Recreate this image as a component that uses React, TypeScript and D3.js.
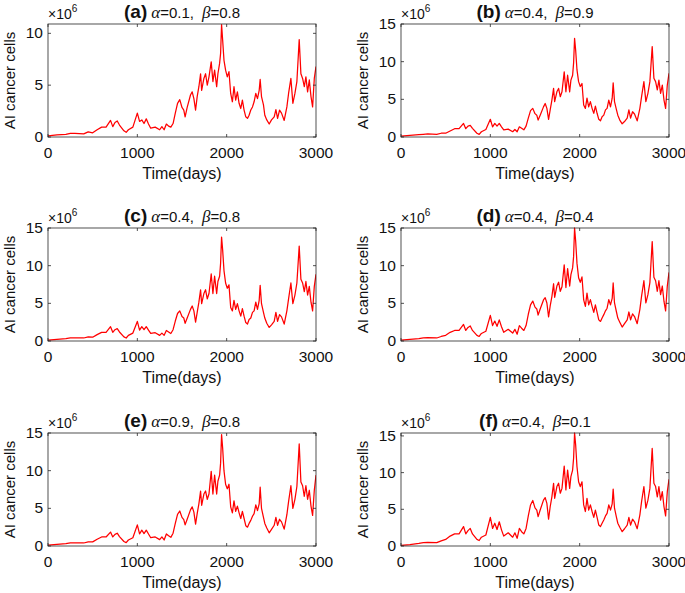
import React from "react";
import * as d3 from "d3";

// ---- data ----
const days = [
  0, 100, 200, 250, 300, 400, 450, 500, 550, 600,
  650, 700, 725, 750, 775, 800, 850, 875, 900, 950,
  1000, 1025, 1050, 1075, 1100, 1125, 1150, 1200, 1250, 1275,
  1300, 1325, 1350, 1375, 1400, 1425, 1450, 1475, 1500, 1520,
  1535, 1558, 1595, 1614, 1633, 1652, 1670, 1689, 1708, 1720,
  1745, 1764, 1783, 1802, 1827, 1846, 1865, 1888, 1902, 1921,
  1932, 1943, 1955, 1970, 1988, 2007, 2026, 2045, 2064, 2082,
  2101, 2120, 2139, 2158, 2176, 2195, 2214, 2233, 2251, 2270,
  2289, 2307, 2326, 2345, 2364, 2375, 2390, 2412, 2427, 2449,
  2476, 2502, 2532, 2551, 2570, 2592, 2614, 2644, 2674, 2693,
  2719, 2741, 2764, 2786, 2812, 2831, 2850, 2869, 2887, 2906,
  2925, 2944, 2962, 2981, 3000,
];

const seriesA = [
  0.1, 0.2, 0.25, 0.35, 0.35, 0.3, 0.5, 0.4, 0.7, 0.95,
  0.95, 1.6, 1.0, 1.4, 1.55, 1.15, 0.6, 0.45, 0.7, 0.95,
  2.3, 1.5, 1.65, 1.3, 1.75, 1.25, 0.85, 0.95, 0.7, 1.0,
  0.7, 1.25, 1.05, 0.95, 1.3, 2.3, 3.25, 3.6, 2.85, 2.6,
  1.95, 2.85, 4.05, 4.35, 3.7, 2.6, 3.9, 4.85, 6.1, 4.5,
  5.65, 6.1, 5.0, 5.8, 7.25, 5.35, 6.45, 4.85, 6.1, 7.1,
  8.05, 10.85, 9.35, 7.4, 6.45, 5.8, 6.3, 4.2, 3.4, 4.85,
  3.55, 4.35, 3.25, 2.75, 3.55, 2.6, 1.95, 1.8, 2.1, 2.6,
  2.9, 3.4, 4.2, 3.7, 4.5, 5.55, 3.9, 3.1, 2.1, 1.65,
  1.25, 1.65, 1.95, 2.65, 1.8, 2.6, 2.3, 1.6, 2.9, 4.2,
  5.65, 3.25, 4.2, 5.35, 9.4, 6.1, 5.65, 4.85, 5.8, 4.35,
  5.5, 3.9, 2.9, 5.65, 6.8,
];

const seriesB = [
  0.1, 0.2, 0.3, 0.35, 0.4, 0.35, 0.5, 0.5, 0.8, 1.1,
  1.1, 1.8, 1.1, 1.45, 1.55, 1.15, 0.5, 0.35, 0.7, 1.0,
  2.35, 1.35, 1.8, 1.45, 1.8, 1.35, 0.95, 1.05, 0.7, 1.0,
  0.7, 1.35, 1.15, 0.95, 1.45, 2.5, 3.5, 3.8, 3.1, 2.9,
  2.25, 2.9, 4.0, 4.45, 3.8, 2.35, 3.6, 4.9, 6.45, 4.7,
  6.0, 6.45, 5.35, 6.0, 8.65, 6.0, 8.2, 6.0, 7.55, 8.2,
  9.8, 13.1, 11.55, 8.9, 7.35, 6.7, 7.1, 4.25, 3.8, 5.15,
  4.0, 4.7, 3.8, 3.15, 4.1, 3.15, 2.35, 2.15, 2.7, 2.9,
  3.6, 3.8, 4.9, 4.0, 5.15, 7.2, 4.7, 3.6, 2.9, 2.25,
  1.75, 2.05, 2.5, 3.6, 2.5, 3.35, 3.05, 2.15, 3.8, 5.35,
  7.35, 4.7, 5.8, 7.35, 12.0, 7.8, 7.35, 6.25, 7.55, 5.8,
  6.9, 4.9, 3.8, 6.9, 8.45,
];

const seriesC = [
  0.1, 0.2, 0.3, 0.4, 0.4, 0.4, 0.55, 0.5, 0.85, 1.15,
  1.15, 1.9, 1.15, 1.5, 1.65, 1.2, 0.55, 0.4, 0.75, 1.05,
  2.6, 1.45, 1.9, 1.5, 1.9, 1.45, 1.0, 1.1, 0.75, 1.05,
  0.75, 1.4, 1.2, 1.0, 1.5, 2.65, 3.65, 4.0, 3.25, 3.05,
  2.35, 3.05, 4.2, 4.65, 4.0, 2.5, 3.8, 5.15, 6.8, 4.95,
  6.3, 6.8, 5.6, 6.3, 8.9, 6.3, 8.6, 6.3, 7.9, 8.6,
  10.3, 13.8, 12.1, 9.35, 7.7, 7.0, 7.45, 4.45, 4.0, 5.4,
  4.2, 4.95, 4.0, 3.3, 4.3, 3.3, 2.45, 2.25, 2.85, 3.05,
  3.8, 4.0, 5.15, 4.2, 5.4, 7.4, 4.95, 3.8, 3.05, 2.35,
  1.8, 2.15, 2.6, 3.8, 2.6, 3.5, 3.2, 2.25, 4.0, 5.6,
  7.7, 4.95, 6.1, 7.7, 12.6, 8.2, 7.7, 6.55, 7.9, 6.1,
  7.25, 5.15, 4.0, 7.25, 8.85,
];

const seriesD = [
  0.1, 0.2, 0.3, 0.4, 0.45, 0.4, 0.6, 0.75, 1.15, 1.4,
  1.4, 2.2, 1.4, 1.8, 2.0, 1.4, 0.75, 0.6, 1.0, 1.3,
  3.4, 2.05, 2.65, 1.95, 2.8, 1.9, 1.15, 1.55, 1.05, 1.55,
  0.9, 2.05, 1.7, 1.4, 2.05, 3.55, 4.8, 5.3, 4.5, 4.25,
  3.45, 4.25, 5.45, 5.75, 5.05, 3.2, 4.65, 5.9, 7.6, 5.8,
  7.3, 7.8, 6.6, 7.2, 10.1, 7.1, 9.6, 7.3, 8.8, 9.7,
  11.2, 15.0, 13.3, 10.3, 8.4, 7.8, 8.5, 5.45, 4.6, 6.35,
  4.8, 5.5, 4.6, 3.8, 4.8, 3.8, 2.8, 2.6, 3.05, 3.5,
  4.0, 4.35, 5.5, 4.8, 5.65, 7.7, 5.05, 3.85, 3.05, 2.5,
  1.85, 2.3, 2.8, 3.85, 2.8, 3.6, 3.25, 2.3, 4.2, 5.95,
  8.0, 5.05, 6.15, 7.75, 13.2, 8.45, 8.0, 6.6, 8.0, 6.15,
  7.3, 5.25, 4.0, 7.3, 9.1,
];

const seriesE = [
  0.1, 0.2, 0.3, 0.4, 0.4, 0.4, 0.55, 0.55, 0.9, 1.2,
  1.2, 1.85, 1.2, 1.55, 1.7, 1.25, 0.6, 0.45, 0.8, 1.1,
  2.8, 1.6, 2.1, 1.65, 2.1, 1.6, 1.1, 1.2, 0.85, 1.2,
  0.8, 1.6, 1.35, 1.15, 1.7, 3.0, 4.2, 4.65, 3.8, 3.5,
  2.8, 3.55, 4.8, 5.2, 4.5, 2.9, 4.3, 5.6, 7.3, 5.4,
  6.9, 7.3, 6.2, 6.9, 9.9, 6.9, 9.4, 6.9, 8.6, 9.4,
  11.0, 14.8, 13.0, 10.0, 8.2, 7.6, 8.2, 5.2, 4.4, 6.0,
  4.6, 5.3, 4.4, 3.65, 4.6, 3.65, 2.7, 2.5, 3.0, 3.4,
  3.95, 4.3, 5.45, 4.7, 5.6, 7.8, 5.0, 3.8, 3.0, 2.4,
  1.75, 2.2, 2.75, 3.8, 2.75, 3.55, 3.2, 2.25, 4.15, 5.9,
  8.0, 5.0, 6.2, 7.9, 13.55, 8.5, 8.0, 6.6, 8.0, 6.2,
  7.4, 5.3, 4.05, 7.4, 9.4,
];

const seriesF = [
  0.1, 0.2, 0.35, 0.45, 0.5, 0.45, 0.7, 0.9, 1.35, 1.65,
  1.65, 2.65, 1.65, 2.1, 2.4, 1.65, 0.9, 0.75, 1.2, 1.5,
  3.9, 2.4, 3.1, 2.25, 3.3, 2.2, 1.35, 1.8, 1.2, 1.8,
  1.05, 2.4, 1.95, 1.65, 2.4, 4.1, 5.6, 6.2, 5.2, 4.9,
  4.0, 4.9, 6.25, 6.6, 5.8, 3.65, 5.35, 6.7, 8.55, 6.5,
  8.1, 8.55, 7.2, 7.85, 10.9, 7.65, 10.35, 7.85, 9.45, 10.35,
  11.95, 15.4, 13.8, 10.8, 8.75, 8.1, 8.75, 5.6, 4.7, 6.5,
  4.9, 5.6, 4.7, 3.9, 4.9, 3.9, 2.85, 2.65, 3.1, 3.55,
  4.1, 4.45, 5.6, 4.9, 5.75, 7.75, 5.15, 3.9, 3.1, 2.55,
  1.95, 2.35, 2.85, 3.9, 2.85, 3.65, 3.3, 2.35, 4.25, 6.05,
  8.1, 5.15, 6.25, 7.85, 13.3, 8.55, 8.1, 6.7, 8.1, 6.25,
  7.4, 5.35, 4.1, 7.4, 9.1,
];

const panelLetters = ["a", "b", "c", "d", "e", "f"];
const alphaValues = ["0.1", "0.4", "0.4", "0.4", "0.9", "0.4"];
const betaValues = ["0.8", "0.9", "0.8", "0.4", "0.8", "0.1"];
const yMaxValues = [10.9, 15, 15, 15, 15, 15.4];
const xTickValues = [0, 1000, 2000, 3000];
const yTickValues = [0, 5, 10, 15];
const allSeries = [seriesA, seriesB, seriesC, seriesD, seriesE, seriesF];

const xLabel = "Time(days)";
const yLabel = "AI cancer cells";

// ---- layout ----
const W = 685;
const H = 593;
const colLeft = [48, 401];
const plotW = 268;
const rowTop = [24, 228, 433];
const plotH = 113;
const axisColor = "#262626";
const textColor = "#111";
const sans = "'Liberation Sans', Arial, Helvetica, sans-serif";
const serif = "'Liberation Serif', 'Times New Roman', serif";

function Panel({ idx }: { idx: number }) {
  const col = idx % 2;
  const row = Math.floor(idx / 2);
  const left = colLeft[col];
  const top = rowTop[row];
  const yMax = yMaxValues[idx];
  const x = d3.scaleLinear().domain([0, 3000]).range([left, left + plotW]);
  const y = d3.scaleLinear().domain([0, yMax]).range([top + plotH, top]);
  const vals = allSeries[idx];
  const pts: [number, number][] = days.map((d, i) => [d, vals[i]]);
  const line = d3
    .line<[number, number]>()
    .x((p) => x(p[0]))
    .y((p) => y(p[1]));
  const yt = yTickValues.filter((v) => v <= yMax + 1e-9);
  const tl = 3;
  const cx = left + plotW / 2;
  const clipId = `clip-${idx}`;
  return (
    <g>
      <defs>
        <clipPath id={clipId}>
          <rect x={left} y={top - 1} width={plotW} height={plotH + 1} />
        </clipPath>
      </defs>
      <rect x={left} y={top} width={plotW} height={plotH} fill="#fff" />
      <path
        d={line(pts) || ""}
        fill="none"
        stroke="#ff0000"
        strokeWidth={1.25}
        strokeLinejoin="round"
        clipPath={`url(#${clipId})`}
      />
      <rect
        x={left}
        y={top}
        width={plotW}
        height={plotH}
        fill="none"
        stroke={axisColor}
        strokeWidth={0.8}
      />
      {xTickValues.map((t) => (
        <g key={"x" + t}>
          <line x1={x(t)} x2={x(t)} y1={top + plotH} y2={top + plotH - tl} stroke={axisColor} strokeWidth={0.8} />
          <line x1={x(t)} x2={x(t)} y1={top} y2={top + tl} stroke={axisColor} strokeWidth={0.8} />
          <text
            x={x(t)}
            y={top + plotH + 21}
            textAnchor="middle"
            fontSize={15.5}
            fontFamily={sans}
            fill={textColor}
          >
            {t}
          </text>
        </g>
      ))}
      {yt.map((t) => (
        <g key={"y" + t}>
          <line x1={left} x2={left + tl} y1={y(t)} y2={y(t)} stroke={axisColor} strokeWidth={0.8} />
          <line x1={left + plotW} x2={left + plotW - tl} y1={y(t)} y2={y(t)} stroke={axisColor} strokeWidth={0.8} />
          <text
            x={left - 5}
            y={y(t) + 5}
            textAnchor="end"
            fontSize={15.5}
            fontFamily={sans}
            fill={textColor}
          >
            {t}
          </text>
        </g>
      ))}
      <text x={left} y={top - 5} fontSize={14} fontFamily={sans} fill={textColor}>
        ×10
        <tspan fontSize={10} dy={-7}>6</tspan>
      </text>
      <text x={cx} y={top - 6} textAnchor="middle" fontFamily={sans} fill={textColor} fontSize={15}>
        <tspan fontWeight="bold" fontSize={19}>({panelLetters[idx]})</tspan>
        <tspan dx={4} fontStyle="italic" fontFamily={serif} fontSize={17}>α</tspan>
        <tspan>={alphaValues[idx]},</tspan>
        <tspan dx={8} fontStyle="italic" fontFamily={serif} fontSize={17}>β</tspan>
        <tspan>={betaValues[idx]}</tspan>
      </text>
      <text
        x={cx}
        y={top + plotH + 42}
        textAnchor="middle"
        fontSize={16}
        fontFamily={sans}
        fill={textColor}
      >
        {xLabel}
      </text>
      <text
        transform={`translate(${left - 33},${top + plotH / 2}) rotate(-90)`}
        textAnchor="middle"
        fontSize={15}
        fontFamily={sans}
        fill={textColor}
      >
        {yLabel}
      </text>
    </g>
  );
}

export default function App() {
  return (
    <svg
      width={W}
      height={H}
      viewBox={`0 0 ${W} ${H}`}
      style={{ position: "absolute", left: 0, top: 0, background: "#fff" }}
    >
      <rect x={0} y={0} width={W} height={H} fill="#fff" />
      {panelLetters.map((_, i) => (
        <Panel key={i} idx={i} />
      ))}
    </svg>
  );
}
